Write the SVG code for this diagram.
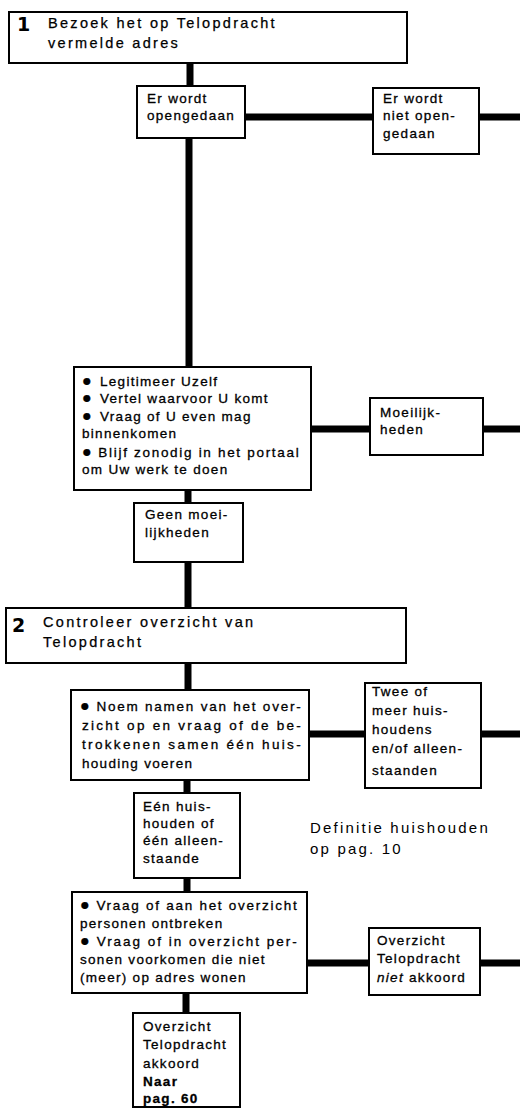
<svg xmlns="http://www.w3.org/2000/svg" width="520" height="1109" viewBox="0 0 520 1109">
<style>
.box{fill:#fff;stroke:#000;stroke-width:2}
.con{stroke:#000;stroke-width:7;fill:none}
text{font-family:"Liberation Sans",Arial,sans-serif;fill:#000}
.t{font-size:13.5px;letter-spacing:1.3px;stroke:#000;stroke-width:0.3}
.h{font-size:14.5px;letter-spacing:2.3px;stroke:#000;stroke-width:0.25}
.num{font-family:"DejaVu Sans",sans-serif;font-size:19px;font-weight:bold}
.d{font-size:15px;letter-spacing:2.2px}
.b{font-weight:bold}
.bu{font-size:16px}
</style>
<rect width="520" height="1109" fill="#fff"/>
<g id="connectors">
<line class="con" x1="190" y1="63" x2="190" y2="86"/>
<line class="con" x1="189" y1="138" x2="189" y2="367"/>
<line class="con" x1="188" y1="490" x2="188" y2="503"/>
<line class="con" x1="188" y1="562" x2="188" y2="608"/>
<line class="con" x1="188" y1="663" x2="188" y2="690"/>
<line class="con" x1="187" y1="780" x2="187" y2="793"/>
<line class="con" x1="187" y1="878" x2="187" y2="892"/>
<line class="con" x1="186" y1="993" x2="186" y2="1013"/>
<line class="con" x1="245" y1="117" x2="373" y2="117"/>
<line class="con" x1="479" y1="117" x2="520" y2="117"/>
<line class="con" x1="311" y1="429" x2="370" y2="429"/>
<line class="con" x1="483" y1="429" x2="520" y2="429"/>
<line class="con" x1="309" y1="734" x2="365" y2="734"/>
<line class="con" x1="481" y1="734" x2="520" y2="734"/>
<line class="con" x1="307" y1="963" x2="369" y2="963"/>
<line class="con" x1="480" y1="963" x2="520" y2="963"/>
</g>
<g id="step1">
<rect class="box" x="9" y="12" width="398" height="51"/>
<text class="num" x="17" y="31">1</text>
<text class="h" x="48" y="28">Bezoek het op Telopdracht</text>
<text class="h" x="48" y="48">vermelde adres</text>
</g>
<g id="opengedaan">
<rect class="box" x="137" y="86" width="108" height="52"/>
<text class="t" x="147" y="103">Er wordt</text>
<text class="t" x="147" y="120">opengedaan</text>
</g>
<g id="niet-opengedaan">
<rect class="box" x="373" y="88" width="106" height="66"/>
<text class="t" x="383" y="103">Er wordt</text>
<text class="t" x="383" y="120">niet open-</text>
<text class="t" x="383" y="138">gedaan</text>
</g>
<g id="legitimeer">
<rect class="box" x="74" y="367" width="237" height="123"/>
<text class="t" x="82" y="386"><tspan class="bu">●</tspan><tspan dx="7">Legitimeer Uzelf</tspan></text>
<text class="t" x="82" y="403"><tspan class="bu">●</tspan><tspan dx="7">Vertel waarvoor U komt</tspan></text>
<text class="t" x="82" y="421"><tspan class="bu">●</tspan><tspan dx="7">Vraag of U even mag</tspan></text>
<text class="t" x="82" y="438">binnenkomen</text>
<text class="t" x="82" y="457" textLength="218" lengthAdjust="spacing"><tspan class="bu">●</tspan><tspan dx="5">Blijf zonodig in het portaal</tspan></text>
<text class="t" x="82" y="474">om Uw werk te doen</text>
</g>
<g id="moeilijkheden">
<rect class="box" x="370" y="398" width="113" height="57"/>
<text class="t" x="380" y="417">Moeilijk-</text>
<text class="t" x="380" y="434">heden</text>
</g>
<g id="geen-moeilijkheden">
<rect class="box" x="134" y="503" width="109" height="59"/>
<text class="t" x="145" y="519">Geen moei-</text>
<text class="t" x="145" y="537">lijkheden</text>
</g>
<g id="step2">
<rect class="box" x="6" y="608" width="400" height="55"/>
<text class="num" x="12" y="632">2</text>
<text class="h" x="43" y="627">Controleer overzicht van</text>
<text class="h" x="43" y="647">Telopdracht</text>
</g>
<g id="noem">
<rect class="box" x="71" y="690" width="238" height="90"/>
<text class="t" x="80" y="711" textLength="222" lengthAdjust="spacing"><tspan class="bu">●</tspan><tspan dx="5">Noem namen van het over-</tspan></text>
<text class="t" x="82" y="730" textLength="220" lengthAdjust="spacing">zicht op en vraag of de be-</text>
<text class="t" x="82" y="749" textLength="220" lengthAdjust="spacing">trokkenen samen één huis-</text>
<text class="t" x="82" y="768">houding voeren</text>
</g>
<g id="twee-of-meer">
<rect class="box" x="365" y="683" width="116" height="105"/>
<text class="t" x="372" y="696">Twee of</text>
<text class="t" x="372" y="715">meer huis-</text>
<text class="t" x="372" y="734">houdens</text>
<text class="t" x="372" y="753">en/of alleen-</text>
<text class="t" x="372" y="775">staanden</text>
</g>
<g id="een-huishouden">
<rect class="box" x="134" y="793" width="106" height="85"/>
<text class="t" x="143" y="811">Eén huis-</text>
<text class="t" x="143" y="828">houden of</text>
<text class="t" x="143" y="845">één alleen-</text>
<text class="t" x="143" y="863">staande</text>
</g>
<g id="definitie">
<text class="d" x="310" y="833">Definitie huishouden</text>
<text class="d" x="310" y="854">op pag. 10</text>
</g>
<g id="vraag">
<rect class="box" x="72" y="892" width="235" height="101"/>
<text class="t" x="80" y="910" textLength="218" lengthAdjust="spacing"><tspan class="bu">●</tspan><tspan dx="5">Vraag of aan het overzicht</tspan></text>
<text class="t" x="80" y="928">personen ontbreken</text>
<text class="t" x="80" y="946" textLength="218" lengthAdjust="spacing"><tspan class="bu">●</tspan><tspan dx="5">Vraag of in overzicht per-</tspan></text>
<text class="t" x="80" y="964">sonen voorkomen die niet</text>
<text class="t" x="80" y="982">(meer) op adres wonen</text>
</g>
<g id="niet-akkoord">
<rect class="box" x="369" y="928" width="111" height="67"/>
<text class="t" x="377" y="945">Overzicht</text>
<text class="t" x="377" y="963">Telopdracht</text>
<text class="t" x="377" y="982"><tspan font-style="italic">niet</tspan> akkoord</text>
</g>
<g id="akkoord">
<rect class="box" x="133" y="1013" width="107" height="94"/>
<text class="t" x="143" y="1031">Overzicht</text>
<text class="t" x="143" y="1049">Telopdracht</text>
<text class="t" x="143" y="1068">akkoord</text>
<text class="t b" x="143" y="1086">Naar</text>
<text class="t b" x="143" y="1103">pag. 60</text>
</g>
</svg>
